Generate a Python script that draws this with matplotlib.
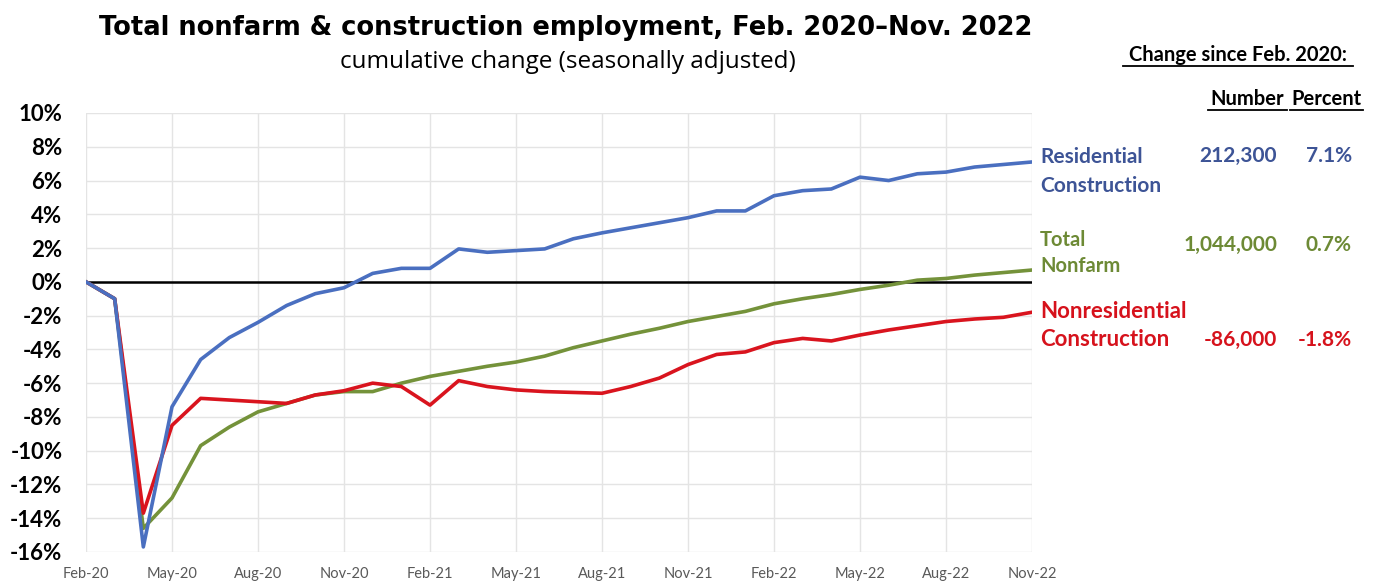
import numpy as np
import matplotlib.pyplot as plt

# monthly cumulative % change since Feb. 2020
months = ['Feb-20', 'Mar-20', 'Apr-20', 'May-20', 'Jun-20', 'Jul-20', 'Aug-20', 'Sep-20',
          'Oct-20', 'Nov-20', 'Dec-20', 'Jan-21', 'Feb-21', 'Mar-21', 'Apr-21', 'May-21',
          'Jun-21', 'Jul-21', 'Aug-21', 'Sep-21', 'Oct-21', 'Nov-21', 'Dec-21', 'Jan-22',
          'Feb-22', 'Mar-22', 'Apr-22', 'May-22', 'Jun-22', 'Jul-22', 'Aug-22', 'Sep-22',
          'Oct-22', 'Nov-22']

residential = [0.0, -1.0, -15.7, -7.4, -4.6, -3.3, -2.4, -1.4, -0.7, -0.35, 0.5, 0.8,
               0.8, 1.95, 1.75, 1.85, 1.95, 2.55, 2.9, 3.2, 3.5, 3.8, 4.2, 4.2,
               5.1, 5.4, 5.5, 6.2, 6.0, 6.4, 6.5, 6.8, 6.95, 7.1]

nonfarm = [0.0, -1.0, -14.6, -12.8, -9.7, -8.6, -7.7, -7.2, -6.7, -6.5, -6.5, -6.0,
           -5.6, -5.3, -5.0, -4.75, -4.4, -3.9, -3.5, -3.1, -2.75, -2.35, -2.05, -1.75,
           -1.3, -1.0, -0.75, -0.45, -0.2, 0.1, 0.2, 0.4, 0.55, 0.7]

nonresidential = [0.0, -1.0, -13.7, -8.5, -6.9, -7.0, -7.1, -7.2, -6.7, -6.45, -6.0, -6.2,
                  -7.3, -5.85, -6.2, -6.4, -6.5, -6.55, -6.6, -6.2, -5.7, -4.9, -4.3, -4.15,
                  -3.6, -3.35, -3.5, -3.15, -2.85, -2.6, -2.35, -2.2, -2.1, -1.8]

series_names = [('Residential', 'Construction'), ('Total', 'Nonfarm'),
                ('Nonresidential', 'Construction')]
change_number = ['212,300', '1,044,000', '-86,000']
change_percent = ['7.1%', '0.7%', '-1.8%']

BLUE = '#4a6fc0'
GREEN = '#74923a'
RED = '#d9141e'
SERIES_TXT = ['#3d5496', '#6d8a35', '#d6121c']

plt.rcParams['font.family'] = ['Lato', 'DejaVu Sans']

W, H = 1380, 585
fig = plt.figure(figsize=(W / 100, H / 100), dpi=100)
ax = fig.add_axes([86 / W, 33 / H, 946 / W, 439 / H])

x = np.arange(len(months))
ax.plot(x, nonfarm, color=GREEN, lw=2.6, zorder=3)
ax.plot(x, nonresidential, color=RED, lw=2.6, zorder=4)
ax.plot(x, residential, color=BLUE, lw=2.6, zorder=5)
ax.axhline(0, color='black', lw=1.8, zorder=2)

ax.set_xlim(0, len(months) - 1)
ax.set_ylim(-16, 10)
ax.set_yticks(np.arange(-16, 11, 2))
ax.set_yticklabels([f'{v}%' for v in range(-16, 11, 2)], fontsize=16, fontweight='bold')
ax.set_xticks(x[::3])
ax.set_xticklabels(months[::3], fontsize=10.5, color='#595959')
ax.tick_params(length=0, axis='y', pad=17)
ax.tick_params(length=0, axis='x', pad=11)
ax.grid(True, color='#e4e4e4', lw=1)
ax.set_axisbelow(True)
for s in ax.spines.values():
    s.set_visible(False)


def px(xp, yp):
    return xp / W, 1 - yp / H


# titles
fig.text(*px(566, 28), 'Total nonfarm & construction employment, Feb. 2020\u2013Nov. 2022',
         ha='center', va='center', fontsize=18.5, fontweight='bold', family='DejaVu Sans')
fig.text(*px(568, 62), 'cumulative change (seasonally adjusted)',
         ha='center', va='center', fontsize=17.5, family='Open Sans')

# change table on the right
fig.text(*px(1238, 55), 'Change since Feb. 2020:', ha='center', va='center',
         fontsize=14.5, fontweight='bold')
fig.text(*px(1247, 99), 'Number', ha='center', va='center', fontsize=14.5, fontweight='bold')
fig.text(*px(1326, 99), 'Percent', ha='center', va='center', fontsize=14.5, fontweight='bold')
for x0, x1, yy in [(1123, 1353, 66), (1208, 1287, 110), (1290, 1363, 110)]:
    fig.add_artist(plt.Line2D([x0 / W, x1 / W], [1 - yy / H] * 2, color='black', lw=1.3))

name_y = [(157, 186), (240, 266), (312, 340)]
value_y = [156, 245, 340]
name_size = [15, 14.5, 16]
for (l1, l2), (y1, y2), num, pct, vy, c, fs in zip(series_names, name_y, change_number,
                                                 change_percent, value_y, SERIES_TXT, name_size):
    fig.text(*px(1040, y1), l1, ha='left', va='center', color=c, fontsize=fs, fontweight='bold')
    fig.text(*px(1040, y2), l2, ha='left', va='center', color=c, fontsize=fs, fontweight='bold')
    fig.text(*px(1277, vy), num, ha='right', va='center', color=c, fontsize=15, fontweight='bold')
    fig.text(*px(1352, vy), pct, ha='right', va='center', color=c, fontsize=15, fontweight='bold')

fig.savefig('out.png', dpi=100, facecolor='white')
